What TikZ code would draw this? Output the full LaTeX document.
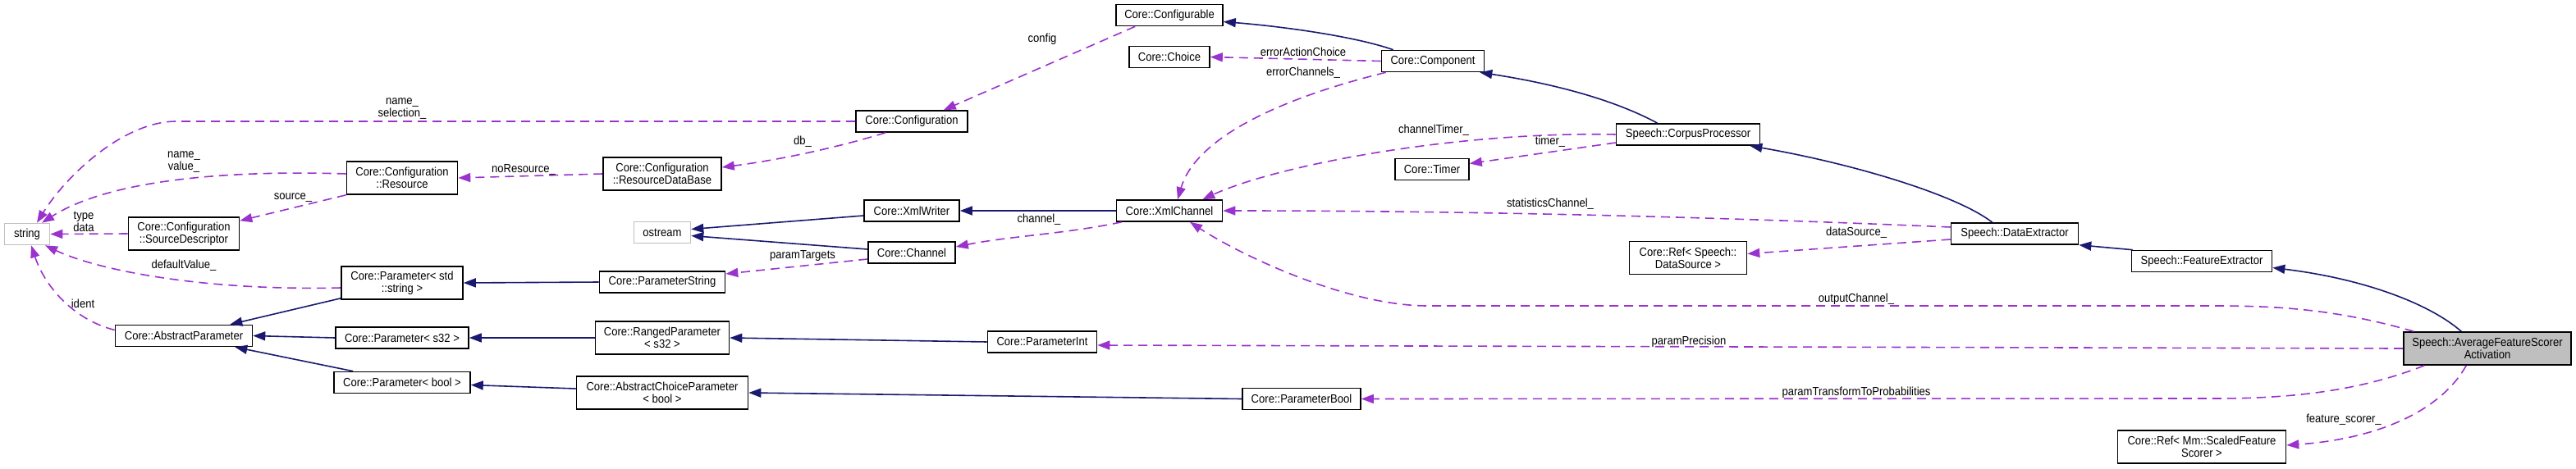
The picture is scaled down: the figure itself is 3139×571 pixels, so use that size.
\documentclass[tikz,border=0pt]{standalone}
\usepackage{fontspec}
\setmainfont{Liberation Sans}[FakeStretch=0.9]
\usetikzlibrary{arrows.meta}
\definecolor{cInh}{HTML}{191970}
\definecolor{cUse}{HTML}{9A32CD}
\definecolor{cExt}{HTML}{BFBFBF}
\tikzset{
  cls/.style={rectangle,draw=black,line width=1.6pt,fill=white,align=center,inner sep=2pt,minimum height=26pt,font=\fontsize{14.5pt}{15pt}\selectfont},
  cls2/.style={cls,minimum height=40pt},
  ext/.style={cls,draw=cExt},
  focus/.style={cls2,fill=cExt},
  inh/.style={cInh,line width=1.6pt,-{Triangle[length=15pt,width=11pt]}},
  uses/.style={cUse,line width=1.6pt,dash pattern=on 11pt off 7pt,-{Triangle[length=15pt,width=11pt]}},
  lbl/.style={font=\fontsize{14.5pt}{15pt}\selectfont,align=center,inner sep=0pt},
}

\begin{document}
\begin{tikzpicture}[x=1pt,y=-1pt]
  \useasboundingbox (0,0) rectangle (3139,571);
  % classes
  \node[ext,minimum width=55pt] (str) at (33,285.5) {string};
  \node[cls2,minimum width=135pt] (srcd) at (224,285) {Core::Configuration\\::SourceDescriptor};
  \node[cls2,minimum width=135pt] (res) at (490,217) {Core::Configuration\\::Resource};
  \node[cls,minimum width=136pt] (cfg) at (1111,148) {Core::Configuration};
  \node[cls2,minimum width=144pt] (rdb) at (807,212) {Core::Configuration\\::ResourceDataBase};
  \node[cls,minimum width=130pt] (cfgable) at (1425,18.5) {Core::Configurable};
  \node[cls,minimum width=98pt] (choice) at (1425,69.5) {Core::Choice};
  \node[cls,minimum width=125pt] (comp) at (1746,74.5) {Core::Component};
  \node[cls,minimum width=175pt] (corpus) at (2057,164) {Speech::CorpusProcessor};
  \node[cls,minimum width=90pt] (timer) at (1745,206.5) {Core::Timer};
  \node[cls,minimum width=116pt] (xmlw) at (1111,257) {Core::XmlWriter};
  \node[cls,minimum width=129pt] (xmlch) at (1425,257) {Core::XmlChannel};
  \node[ext,minimum width=69pt] (ostr) at (807,283.5) {ostream};
  \node[cls,minimum width=106pt] (chan) at (1111,308) {Core::Channel};
  \node[cls,minimum width=153pt] (pstr) at (807,344) {Core::ParameterString};
  \node[cls2,minimum width=148pt] (pstd) at (490,345) {Core::Parameter< std\\::string >};
  \node[cls,minimum width=167pt] (absp) at (224,409.5) {Core::AbstractParameter};
  \node[cls,minimum width=162pt] (ps32) at (490,412) {Core::Parameter< s32 >};
  \node[cls,minimum width=166pt] (pbool) at (490,466.5) {Core::Parameter< bool >};
  \node[cls2,minimum width=163pt] (rng) at (807,412) {Core::RangedParameter\\< s32 >};
  \node[cls,minimum width=133pt] (pint) at (1270,417) {Core::ParameterInt};
  \node[cls2,minimum width=209pt] (achoice) at (807,479) {Core::AbstractChoiceParameter\\< bool >};
  \node[cls,minimum width=144pt] (pboolc) at (1586,486.5) {Core::ParameterBool};
  \node[cls,minimum width=155pt] (dext) at (2455,285) {Speech::DataExtractor};
  \node[cls,minimum width=171pt] (feat) at (2683,318.5) {Speech::FeatureExtractor};
  \node[cls2,minimum width=143pt] (dsrc) at (2057,314.5) {Core::Ref< Speech::\\DataSource >};
  \node[focus,minimum width=204pt] (main) at (3031,425) {Speech::AverageFeatureScorer\\Activation};
  \node[cls2,minimum width=205pt] (fsc) at (2683,545) {Core::Ref< Mm::ScaledFeature\\Scorer >};
  % inheritance
  \draw[inh] ([xshift=15pt]comp.north west) .. controls (1650,44) and (1560,32) .. ([yshift=-8pt]cfgable.east);
  \draw[inh] ([xshift=51pt]corpus.north west) .. controls (1960,118) and (1880,100) .. ([xshift=-6pt]comp.south east);
  \draw[inh] ([xshift=51pt]dext.north west) .. controls (2385,238) and (2260,200) .. ([xshift=-13pt]corpus.south east);
  \draw[inh] ([xshift=2pt]feat.north west) -- (dext.south east);
  \draw[inh] ([xshift=71pt]main.north west) .. controls (2960,370) and (2880,340) .. ([yshift=-8pt]feat.east);
  \draw[inh] (xmlch.west) -- (xmlw.east);
  \draw[inh] ([yshift=-6pt]xmlw.west) -- ([yshift=4pt]ostr.east);
  \draw[inh] ([yshift=4pt]chan.west) -- ([yshift=-4pt]ostr.east);
  \draw[inh] ([yshift=2pt]pstd.south west) -- ([xshift=-28pt]absp.north east);
  \draw[inh] (ps32.west) -- (absp.east);
  \draw[inh] ([xshift=24pt]pbool.north west) -- ([xshift=-22pt]absp.south east);
  \draw[inh] (pstr.west) -- (pstd.east);
  \draw[inh] (rng.west) -- (ps32.east);
  \draw[inh] ([yshift=5pt]achoice.west) -- ([yshift=-3pt]pbool.east);
  \draw[inh] (pint.west) -- (rng.east);
  \draw[inh] (pboolc.west) -- (achoice.east);
  % usage
  \draw[uses] ([xshift=24pt]cfgable.south west) -- ([xshift=-30pt]cfg.north east);
  \node[lbl] at (1270,48) {config};
  \draw[uses] (comp.west) -- (choice.east);
  \node[lbl] at (1588,63) {errorActionChoice};
  \draw[uses] ([xshift=6pt]comp.south west) .. controls (1540,125) and (1455,175) .. ([xshift=10pt]xmlch.north);
  \node[lbl] at (1588,89) {errorChannels\_};
  \draw[uses] (cfg.west) -- (215,148) .. controls (150,148) and (80,215) .. ([xshift=12pt]str.north);
  \node[lbl] at (490,133) {name\_\\selection\_};
  \draw[uses] ([xshift=37pt]cfg.south west) .. controls (1020,180) and (950,195) .. ([yshift=8pt]rdb.east);
  \node[lbl] at (978,173) {db\_};
  \draw[uses] (rdb.west) -- (res.east);
  \node[lbl] at (638,207) {noResource\_};
  \draw[uses] ([yshift=5pt]res.west) .. controls (300,208) and (140,215) .. ([xshift=18pt]str.north);
  \node[lbl] at (224,198) {name\_\\value\_};
  \draw[uses] (res.south west) -- ([yshift=-5pt]srcd.north east);
  \node[lbl] at (357,241) {source\_};
  \draw[uses] (srcd.west) -- (str.east);
  \node[lbl] at (102,270) {type\\data};
  \draw[uses] ([yshift=-6pt]pstd.west) .. controls (250,355) and (120,330) .. ([xshift=22pt]str.south);
  \node[lbl] at (224,324) {defaultValue\_};
  \draw[uses] ([yshift=7pt]absp.west) .. controls (90,390) and (55,350) .. ([xshift=5pt]str.south);
  \node[lbl] at (101,370) {ident};
  \draw[uses] ([xshift=7pt]xmlch.south west) .. controls (1300,285) and (1230,288) .. ([yshift=7pt]chan.east);
  \node[lbl] at (1266,268) {channel\_};
  \draw[uses] ([yshift=-8pt]chan.west) -- ([yshift=10pt]pstr.east);
  \node[lbl] at (978,312) {paramTargets};
  \draw[uses] (corpus.west) .. controls (1780,160) and (1560,200) .. ([xshift=-25pt]xmlch.north east);
  \node[lbl] at (1747,159) {channelTimer\_};
  \draw[uses] ([yshift=-10pt]corpus.west) -- ([yshift=7pt]timer.east);
  \node[lbl] at (1889,173) {timer\_};
  \draw[uses] ([yshift=8pt]dext.west) .. controls (2100,265) and (1800,257) .. (xmlch.east);
  \node[lbl] at (1889,249) {statisticsChannel\_};
  \draw[uses] ([yshift=-7pt]dext.west) -- ([yshift=5pt]dsrc.east);
  \node[lbl] at (2262,284) {dataSource\_};
  \draw[uses] ([xshift=13pt]main.north west) .. controls (2850,378) and (2780,373) .. (2700,373) -- (1740,373)
    .. controls (1640,373) and (1510,310) .. ([xshift=25pt]xmlch.south);
  \node[lbl] at (2262,365) {outputChannel\_};
  \draw[uses] (main.west) -- ([yshift=-4pt]pint.east);
  \node[lbl] at (2058,417) {paramPrecision};
  \draw[uses] ([xshift=26pt]main.south west) .. controls (2880,475) and (2800,486) .. (2700,486) -- (pboolc.east);
  \node[lbl] at (2262,479) {paramTransformToProbabilities};
  \draw[uses] ([xshift=77pt]main.south west) .. controls (2975,500) and (2900,535) .. ([yshift=2pt]fsc.east);
  \node[lbl] at (2856,512) {feature\_scorer\_};
\end{tikzpicture}
\end{document}
